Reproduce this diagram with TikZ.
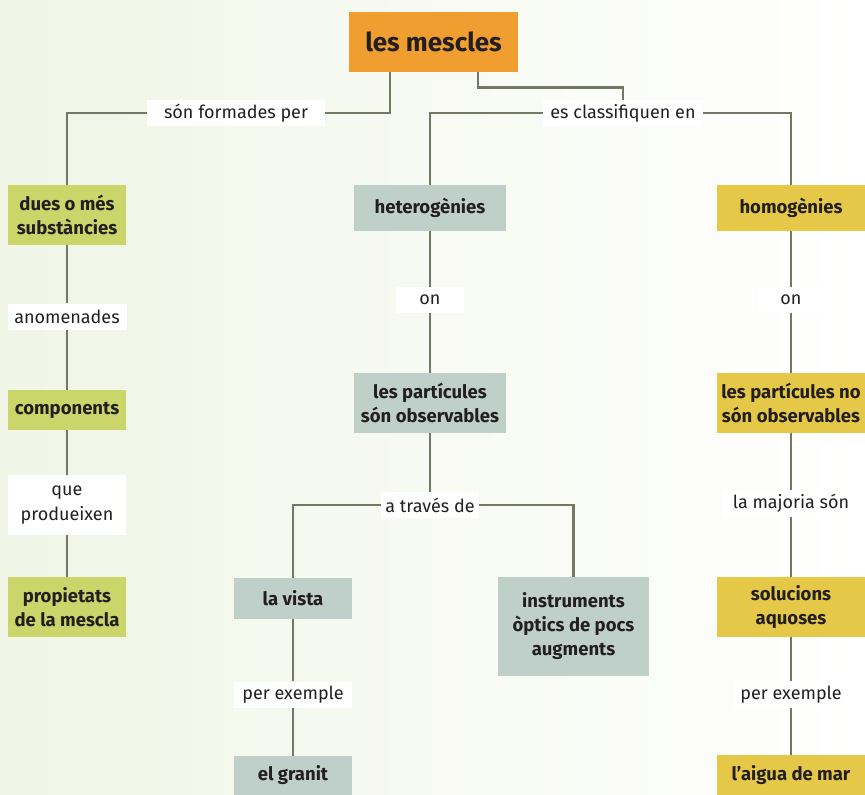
\documentclass[tikz,border=0pt]{standalone}
\usepackage{fontspec}
\setmainfont{Fira Sans}
\usepackage{tikz}
\usetikzlibrary{positioning}

\definecolor{mixorange}{RGB}{240,158,48}
\definecolor{mixgreen}{RGB}{202,214,106}
\definecolor{mixgrey}{RGB}{191,208,203}
\definecolor{mixyellow}{RGB}{230,200,72}
\definecolor{linkcol}{RGB}{118,118,100}
\definecolor{inkcol}{RGB}{35,31,32}
\definecolor{bgleft}{RGB}{240,245,230}

\begin{document}
\begin{tikzpicture}[x=1pt,y=-1pt,
  every node/.style={inner sep=0pt,align=center,text=inkcol},
  concept/.style={font=\bfseries\fontsize{18.5}{24}\selectfont,minimum height=#1},
  concept/.default=40pt,
  lbl/.style={fill=white,font=\fontsize{18}{25}\selectfont,minimum height=26pt},
  link/.style={draw=linkcol,line width=2.8pt}]

  % background
  \shade[left color=bgleft,right color=white] (0,0) rectangle (865,795);
  \useasboundingbox (0,0) rectangle (865,795);

  % top
  \node[fill=mixorange,minimum width=169pt,minimum height=60pt,
    font=\bfseries\fontsize{26}{30}\selectfont] (mescles) at (433.5,42) {les mescles};
  \node[lbl,minimum width=178pt] (formades) at (236,113) {són formades per};
  \node[lbl,minimum width=160pt] (classif) at (623,113) {es classifiquen en};

  % left column
  \node[concept=60pt,fill=mixgreen,minimum width=118pt] (dues) at (67,215) {dues o més\\substàncies};
  \node[lbl,minimum width=119pt] (anomen) at (67,316.5) {anomenades};
  \node[concept,fill=mixgreen,minimum width=118pt] (comp) at (67,410) {components};
  \node[lbl,minimum width=118pt,minimum height=60pt] (produ) at (67,505) {que\\produeixen};
  \node[concept=60pt,fill=mixgreen,minimum width=118pt] (propi) at (67,607) {propietats\\de la mescla};

  % middle column
  \node[concept=46pt,fill=mixgrey,minimum width=152pt] (heter) at (430,208) {heterogènies};
  \node[lbl,minimum width=68pt] (onhet) at (430,300) {on};
  \node[concept=60pt,fill=mixgrey,minimum width=152pt] (partobs) at (430,403) {les partícules\\són observables};
  \node[lbl,minimum width=98pt] (traves) at (430,505) {a través de};
  \node[concept=41pt,fill=mixgrey,minimum width=118pt] (vista) at (293,598.5) {la vista};
  \node[concept=99pt,fill=mixgrey,minimum width=151pt] (instr) at (573.5,626.5) {instruments\\òptics de pocs\\augments};
  \node[lbl,minimum width=118pt] (exhet) at (293,694.5) {per exemple};
  \node[concept=39pt,fill=mixgrey,minimum width=118pt] (granit) at (293,775.5) {el granit};

  % right column
  \node[concept=46pt,fill=mixyellow,minimum width=149pt] (homog) at (791,208) {homogènies};
  \node[lbl,minimum width=69pt] (onhom) at (791,300) {on};
  \node[concept=60pt,fill=mixyellow,minimum width=149pt] (partno) at (791,403) {les partícules no\\són observables};
  \node[lbl,minimum width=140pt] (majoria) at (791,503.5) {la majoria són};
  \node[concept=60pt,fill=mixyellow,minimum width=149pt] (soluc) at (791,607) {solucions\\aquoses};
  \node[lbl,minimum width=115pt] (exhom) at (791,694.5) {per exemple};
  \node[concept,fill=mixyellow,minimum width=149pt] (aigua) at (791,775) {l’aigua de mar};

  % connectors
  \draw[link] ([xshift=-43.5pt]mescles.south) |- (formades.east);
  \draw[link] (formades.west) -| (dues.north);
  \draw[link] ([xshift=44.5pt]mescles.south) |- ([yshift=12pt]classif.north) -- (classif.north);
  \draw[link] (classif.west) -| (heter.north);
  \draw[link] (classif.east) -| (homog.north);

  \draw[link] (dues) -- (anomen) -- (comp) -- (produ) -- (propi);

  \draw[link] (heter) -- (onhet) -- (partobs) -- (traves);
  \draw[link] (traves.west) -| (vista.north);
  \draw[link] (traves.east) -| (instr.north);
  \draw[link] (vista) -- (exhet) -- (granit);

  \draw[link] (homog) -- (onhom) -- (partno) -- (majoria) -- (soluc) -- (exhom) -- (aigua);
\end{tikzpicture}
\end{document}
